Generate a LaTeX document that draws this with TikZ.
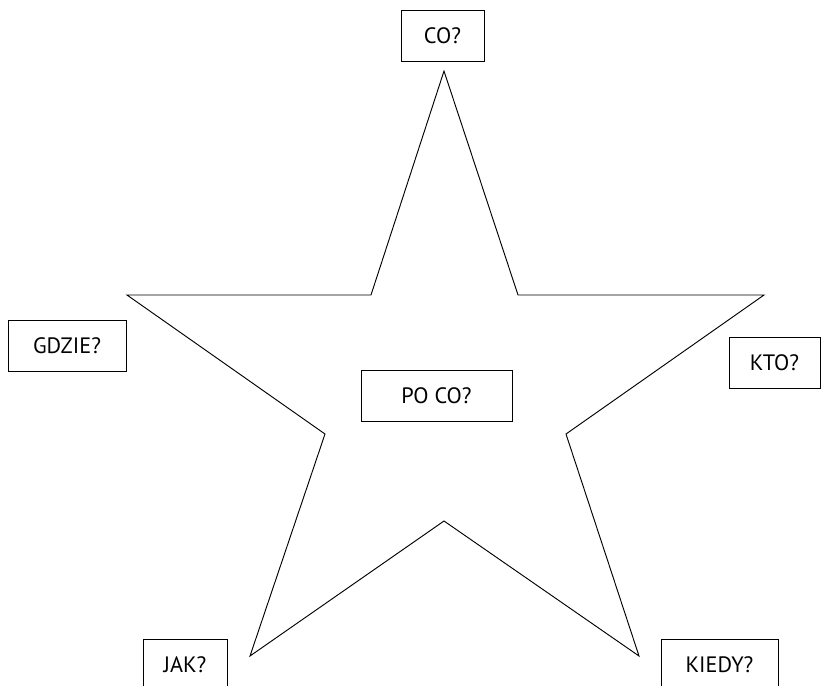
\documentclass[tikz,border=0pt]{standalone}
\usepackage{fontspec}
\setmainfont{PT Sans}
\usepackage{tikz}
\usetikzlibrary{positioning, calc}

\begin{document}
\begin{tikzpicture}[x=0.3mm, y=-0.3mm, line width=0.8pt,
    qbox/.style={draw, rectangle, minimum height=51*0.3mm, inner sep=0pt, font=\fontsize{19}{22}\selectfont}]
\useasboundingbox (0,0) rectangle (821,685);
% Draw star
\draw[line join=miter] (444,71) -- (518,295) -- (764,295) -- (566,434) -- (639,656)
  -- (444,521) -- (250,656) -- (325,434) -- (127,295) -- (371,295) -- cycle;
% Question boxes
\node[qbox, minimum width=83*0.3mm] (co) at (442.5,35.5) {CO?};
\node[qbox, minimum width=118*0.3mm] (gdzie) at (67,346) {GDZIE?};
\node[qbox, minimum width=91*0.3mm] (kto) at (774.5,363) {KTO?};
\node[qbox, minimum width=151*0.3mm] (poco) at (436.5,395.5) {PO CO?};
\node[qbox, minimum width=84*0.3mm] (jak) at (185,664.5) {JAK?};
\node[qbox, minimum width=117*0.3mm] (kiedy) at (719.5,664.5) {KIEDY?};
\end{tikzpicture}
\end{document}
